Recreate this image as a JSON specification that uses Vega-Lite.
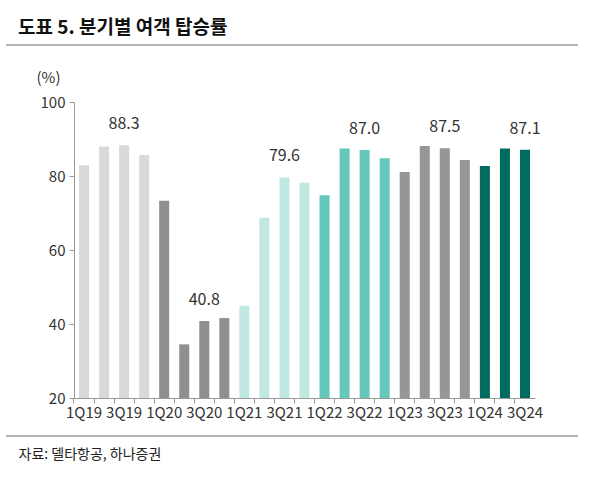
{
  "$schema": "https://vega.github.io/schema/vega-lite/v6.json",
  "autosize": {"type": "none"},
  "width": 461,
  "height": 296,
  "padding": {"left": 74, "top": 102, "right": 65, "bottom": 84},
  "background": "white",
  "config": {
    "view": {"stroke": null},
    "font": "Noto Sans CJK KR"
  },
  "title": {
    "text": "도표 5. 분기별 여객 탑승률",
    "anchor": "start",
    "frame": "group",
    "dx": -56,
    "offset": 0,
    "dy": -6,
    "fontSize": 19,
    "fontWeight": "bold",
    "color": "#111111",
    "font": "Noto Sans CJK KR"
  },
  "datasets": {
    "quarters": [
      {"q": "1Q19", "year": "2019", "v": 82.9},
      {"q": "2Q19", "year": "2019", "v": 88.0},
      {"q": "3Q19", "year": "2019", "v": 88.3},
      {"q": "4Q19", "year": "2019", "v": 85.7},
      {"q": "1Q20", "year": "2020", "v": 73.3},
      {"q": "2Q20", "year": "2020", "v": 34.5},
      {"q": "3Q20", "year": "2020", "v": 40.8},
      {"q": "4Q20", "year": "2020", "v": 41.6},
      {"q": "1Q21", "year": "2021", "v": 44.9},
      {"q": "2Q21", "year": "2021", "v": 68.7},
      {"q": "3Q21", "year": "2021", "v": 79.6},
      {"q": "4Q21", "year": "2021", "v": 78.2},
      {"q": "1Q22", "year": "2022", "v": 74.8},
      {"q": "2Q22", "year": "2022", "v": 87.4},
      {"q": "3Q22", "year": "2022", "v": 87.0},
      {"q": "4Q22", "year": "2022", "v": 84.8},
      {"q": "1Q23", "year": "2023", "v": 81.1},
      {"q": "2Q23", "year": "2023", "v": 88.1},
      {"q": "3Q23", "year": "2023", "v": 87.5},
      {"q": "4Q23", "year": "2023", "v": 84.3},
      {"q": "1Q24", "year": "2024", "v": 82.7},
      {"q": "2Q24", "year": "2024", "v": 87.4},
      {"q": "3Q24", "year": "2024", "v": 87.1}
    ],
    "separators": [{"line": "header"}]
  },
  "layer": [
    {
      "data": {"name": "quarters"},
      "mark": {"type": "bar"},
      "encoding": {
        "x": {
          "field": "q",
          "type": "nominal",
          "sort": null,
          "scale": {"paddingInner": 0.5, "paddingOuter": 0.25},
          "axis": {
            "title": "자료: 델타항공, 하나증권",
            "titleX": -56,
            "titleY": 60,
            "titleAlign": "left",
            "titleAnchor": "start",
            "titleBaseline": "alphabetic",
            "titleFontSize": 14,
            "titleFontWeight": "normal",
            "titleColor": "#222222",
            "labelAngle": 0,
            "labelFontSize": 15,
            "labelColor": "#333333",
            "labelPadding": 2,
            "labelOverlap": false,
            "labelExpr": "(slice(datum.value,0,1)=='1' || slice(datum.value,0,1)=='3') ? datum.value : ''",
            "bandPosition": -0.5,
            "labelOffset": 0,
            "tickSize": 5,
            "tickColor": "#999999",
            "domainColor": "#999999"
          }
        },
        "y": {
          "field": "v",
          "type": "quantitative",
          "scale": {"domain": [20, 100], "zero": false, "nice": false},
          "axis": {
            "values": [20, 40, 60, 80, 100],
            "grid": false,
            "title": "(%)",
            "titleAngle": 0,
            "titleX": -26,
            "titleY": -20,
            "titleAlign": "center",
            "titleBaseline": "alphabetic",
            "titleFontSize": 15,
            "titleFontWeight": "normal",
            "titleColor": "#333333",
            "labelFontSize": 15,
            "labelColor": "#333333",
            "labelPadding": 4,
            "tickSize": 5,
            "tickColor": "#999999",
            "domainColor": "#999999"
          }
        },
        "y2": {"datum": 20},
        "color": {
          "field": "year",
          "type": "nominal",
          "legend": null,
          "scale": {
            "domain": ["2019", "2020", "2021", "2022", "2023", "2024"],
            "range": ["#d9d9d9", "#8f8f8f", "#c2e8e2", "#66c8bb", "#969696", "#006b5e"]
          }
        }
      }
    },
    {
      "data": {"name": "quarters"},
      "transform": [{"filter": "indexof(['3Q19','3Q20','3Q21','3Q22','3Q23','3Q24'], datum.q) >= 0"}],
      "mark": {"type": "text", "baseline": "alphabetic", "dy": -16, "fontSize": 16, "color": "#333333"},
      "encoding": {
        "x": {"field": "q", "type": "nominal", "sort": null},
        "y": {"field": "v", "type": "quantitative"},
        "text": {"field": "v", "type": "quantitative", "format": ".1f"}
      }
    },
    {
      "data": {"name": "separators"},
      "mark": {"type": "rule", "color": "#999999", "strokeWidth": 1.5},
      "encoding": {
        "x": {"value": -68},
        "x2": {"value": 504},
        "y": {"value": -57}
      }
    },
    {
      "data": {"name": "separators"},
      "mark": {"type": "rule", "color": "#999999", "strokeWidth": 1.5},
      "encoding": {
        "x": {"value": -68},
        "x2": {"value": 504},
        "y": {"value": 334}
      }
    }
  ]
}
